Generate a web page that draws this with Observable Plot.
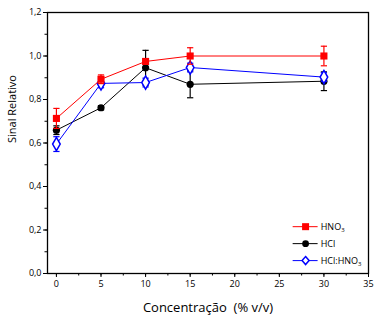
<!DOCTYPE html>
<html><head><meta charset="utf-8">
<script src="https://cdn.jsdelivr.net/npm/d3@7"></script>
<script src="https://cdn.jsdelivr.net/npm/@observablehq/plot@0.6"></script>
<style>body{margin:0;background:#fff}svg{display:block}</style>
</head><body><div id="chart"></div>
<script>
const concentrations = [0, 5, 10, 15, 30];
const hno3 = [0.713, 0.893, 0.975, 1.0, 1.0];
const hno3Err = [0.046, 0.02, 0.0, 0.038, 0.045];
const hcl = [0.659, 0.762, 0.946, 0.870, 0.884];
const hclErr = [0.02, 0.01, 0.08, 0.062, 0.043];
const mix = [0.595, 0.874, 0.878, 0.947, 0.903];
const mixErr = [0.034, 0.02, 0.02, 0.02, 0.02];
const seriesNames = ["HNO3", "HCl", "HCl:HNO3"];
const colors = ["#ff0000", "#000000", "#0000ff"];
const xTicks = [0, 5, 10, 15, 20, 25, 30, 35];
const yTicks = [0, 0.2, 0.4, 0.6, 0.8, 1.0, 1.2];

const series = [hno3, hcl, mix];
const errs = [hno3Err, hclErr, mixErr];
const rows = [];
series.forEach((vals, s) => vals.forEach((v, i) => rows.push({s: seriesNames[s], x: concentrations[i], y: v, e: errs[s][i]})));
const cap = 0.35;
const fmt = d => d.toFixed(1).replace(".", ",");
const xMinor = d3.range(0, 35.01, 2.5);
const yMinor = d3.range(0, 1.201, 0.1);

const marks = [];
["HCl", "HCl:HNO3", "HNO3"].forEach(name => {
  const c = colors[seriesNames.indexOf(name)];
  const d = rows.filter(r => r.s === name);
  marks.push(Plot.line(d, {x: "x", y: "y", stroke: c, strokeWidth: 1}));
  const de = d.filter(r => r.e > 0);
  marks.push(Plot.ruleX(de, {x: "x", y1: r => r.y - r.e, y2: r => r.y + r.e, stroke: c, strokeWidth: 1.2}));
  marks.push(Plot.link(de, {x1: r => r.x - cap, x2: r => r.x + cap, y1: r => r.y + r.e, y2: r => r.y + r.e, stroke: c, strokeWidth: 1.2}));
  marks.push(Plot.link(de, {x1: r => r.x - cap, x2: r => r.x + cap, y1: r => r.y - r.e, y2: r => r.y - r.e, stroke: c, strokeWidth: 1.2}));
  if (name === "HNO3") marks.push(Plot.dot(d, {x: "x", y: "y", symbol: "square", r: 4, fill: c}));
  else if (name === "HCl") marks.push(Plot.dot(d, {x: "x", y: "y", symbol: "circle", r: 3.6, fill: c}));
  else marks.push(Plot.dot(d, {x: "x", y: "y", symbol: "diamond", r: 4, fill: "#ffffff", stroke: c, strokeWidth: 1.5}));
});

const plot = Plot.plot({
  width: 384, height: 318,
  marginLeft: 47, marginRight: 16, marginTop: 12, marginBottom: 45,
  style: {fontFamily: "'Open Sans', sans-serif", fontSize: "9px", color: "#000", background: "#fff"},
  x: {domain: [-1, 35]},
  y: {domain: [0, 1.2]},
  marks: [
    Plot.axisX({ticks: xTicks, tickSize: 4, tickFormat: d => d, label: null, tickPadding: 3, stroke: "#000"}),
    Plot.axisX({ticks: xMinor, tickSize: 2.5, tickFormat: null, text: null, label: null}),
    Plot.axisY({ticks: yTicks, tickSize: 4, tickFormat: fmt, label: null, tickPadding: 2}),
    Plot.axisY({ticks: yMinor, tickSize: 2.5, text: null, label: null}),
    ...marks,
    Plot.frame({stroke: "#000", strokeWidth: 1.3}),
    Plot.text(["Concentração  (% v/v)"], {frameAnchor: "bottom", dy: 38, fontSize: 13}),
    Plot.text(["Sinal Relativo"], {frameAnchor: "left", dx: -35, rotate: -90, fontSize: 11})
  ]
});
document.getElementById("chart").appendChild(plot);

// legend inside plot, positioned with the plot's own scales
const sx = plot.scale("x"), sy = plot.scale("y");
const svg = d3.select(plot);
const g = svg.append("g").attr("font-family", "'Open Sans', sans-serif").attr("font-size", 9).attr("text-anchor", "start");
const legX = [26.55, 29.35], legM = 28.0, legT = 29.7;
const legY = [0.213, 0.135, 0.057];
seriesNames.forEach((name, i) => {
  const y = sy.apply(legY[i]);
  g.append("line").attr("x1", sx.apply(legX[0])).attr("x2", sx.apply(legX[1])).attr("y1", y).attr("y2", y).attr("stroke", colors[i]).attr("stroke-width", 1);
  const mx = sx.apply(legM);
  if (i === 0) g.append("rect").attr("x", mx - 3.5).attr("y", y - 3.5).attr("width", 7).attr("height", 7).attr("fill", colors[i]);
  else if (i === 1) g.append("circle").attr("cx", mx).attr("cy", y).attr("r", 3.4).attr("fill", colors[i]);
  else g.append("path").attr("d", `M${mx},${y-4}L${mx+3.5},${y}L${mx},${y+4}L${mx-3.5},${y}Z`).attr("fill", "#fff").attr("stroke", colors[i]).attr("stroke-width", 1.5);
  const t = g.append("text").attr("x", sx.apply(legT)).attr("y", y).attr("dy", "0.35em").attr("fill", "#000");
  if (name.endsWith("HNO3")) {
    t.append("tspan").text(name.slice(0, -1));
    t.append("tspan").attr("dy", "0.35em").attr("font-size", 6).text("3");
  } else t.text(name);
});
</script></body></html>
